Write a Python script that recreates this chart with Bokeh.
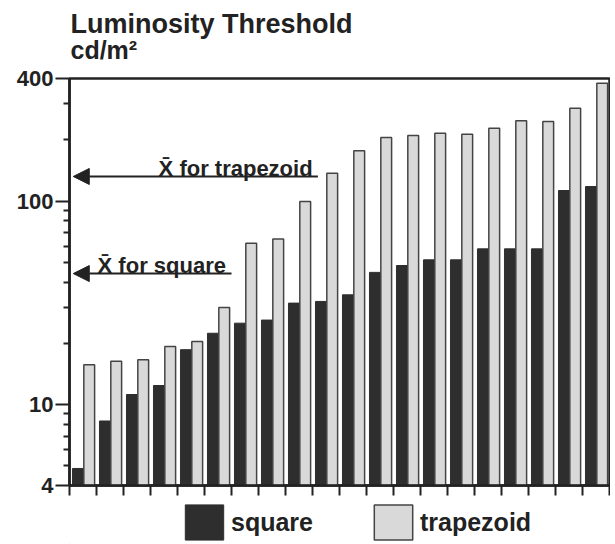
from bokeh.plotting import figure
from bokeh.layouts import column
from bokeh.models import (Range1d, FixedTicker, PrintfTickFormatter, Label, Arrow,
                          NormalHead, Legend, LegendItem, ColumnDataSource)
from bokeh.transform import dodge
from bokeh.embed import file_html
from bokeh.resources import INLINE

# ---- data ----
subjects = list(range(1, 21))
square = [4.85, 8.3, 11.2, 12.4, 18.6, 22.4, 25.1, 26.0, 31.5, 32.1,
          34.6, 44.6, 48.2, 51.4, 51.4, 58.2, 58.2, 58.2, 112.6, 117.8]
trapezoid = [15.7, 16.3, 16.6, 19.3, 20.4, 30.0, 62.0, 65.0, 99.5, 137.0,
             176.6, 205.0, 210.0, 215.0, 213.0, 228.0, 248.0, 246.0, 286.0, 379.0]
mean_square = 44
mean_trapezoid = 132
y_major_ticks = [4, 10, 100, 400]
y_minor_ticks = [5, 6, 7, 8, 9, 20, 30, 40, 50, 60, 70, 80, 90, 200, 300]
series_names = ["square", "trapezoid"]
title_text = "Luminosity Threshold"
unit_text = "cd/m\u00b2"
mean_labels = ["X\u0304 for square", "X\u0304 for trapezoid"]

FONT = "Liberation Sans"
INK = "#222222"
DARK = "#2e2e2e"
LIGHT = "#d9d9d9"
EDGE = "#444444"
W = 610

n = len(subjects)
y_lo, y_hi = y_major_ticks[0], y_major_ticks[-1]
src = ColumnDataSource(dict(pos=list(range(n)), square=square, trapezoid=trapezoid))


def bare(fig):
    fig.grid.visible = False
    fig.outline_line_color = None
    fig.background_fill_color = "white"
    fig.border_fill_color = "white"


# ---- header strip with the axis title ----
hd = figure(width=W, height=66, x_range=Range1d(0, 1), y_range=Range1d(0, 1),
            output_backend="svg", toolbar_location=None, min_border=0,
            min_border_left=69, min_border_right=1,
            x_axis_location=None, y_axis_location=None)
bare(hd)
hd.add_layout(Label(x=1, y=43, x_units="screen", y_units="screen", text=title_text,
                    text_font=FONT, text_font_style="bold", text_font_size="27px",
                    text_color=INK, text_baseline="alphabetic"))
hd.add_layout(Label(x=1, y=17, x_units="screen", y_units="screen", text=unit_text,
                    text_font=FONT, text_font_style="bold", text_font_size="25px",
                    text_color=INK, text_baseline="alphabetic"))

# ---- main chart ----
p = figure(width=W, height=434, y_axis_type="log",
           x_range=Range1d(0, n), y_range=Range1d(y_lo, y_hi),
           output_backend="svg", toolbar_location=None,
           min_border_left=69, min_border_right=1,
           min_border_top=12, min_border_bottom=15)
p.grid.visible = False
p.background_fill_color = "white"
p.border_fill_color = "white"
p.outline_line_color = INK
p.outline_line_width = 2.5

dark = p.vbar(x=dodge("pos", 0.32, range=p.x_range), top="square", bottom=y_lo,
              width=0.42, source=src, fill_color=DARK, line_color=DARK, line_width=1)
light = p.vbar(x=dodge("pos", 0.73, range=p.x_range), top="trapezoid", bottom=y_lo,
               width=0.40, source=src, fill_color=LIGHT, line_color=EDGE, line_width=1.5)

ya = p.yaxis[0]
ya.ticker = FixedTicker(ticks=y_major_ticks, minor_ticks=y_minor_ticks)
ya.formatter = PrintfTickFormatter(format="%d")
ya.major_label_text_font = FONT
ya.major_label_text_font_style = "bold"
ya.major_label_text_font_size = "22px"
ya.major_label_text_color = INK
ya.major_label_standoff = 2
ya.major_tick_out = 14
ya.major_tick_in = 0
ya.minor_tick_out = 6
ya.minor_tick_in = 0
ya.major_tick_line_width = 2
ya.minor_tick_line_width = 2
ya.major_tick_line_color = INK
ya.minor_tick_line_color = INK
ya.axis_line_width = 2.5
ya.axis_line_color = INK

xa = p.xaxis[0]
xa.ticker = FixedTicker(ticks=list(range(n + 1)))
xa.major_label_text_font_size = "0px"
xa.major_label_standoff = 0
xa.major_tick_out = 10
xa.major_tick_in = 0
xa.minor_tick_out = 0
xa.minor_tick_in = 0
xa.major_tick_line_width = 2
xa.major_tick_line_color = INK
xa.axis_line_width = 2.5
xa.axis_line_color = INK

for mean, x_end_line, x_text, txt in [(mean_trapezoid, 9.2, 3.3, mean_labels[1]),
                                      (mean_square, 6.0, 1.04, mean_labels[0])]:
    p.add_layout(Arrow(end=NormalHead(size=16, fill_color=INK, line_color=INK),
                       x_start=x_end_line, x_end=0.14, y_start=mean, y_end=mean,
                       line_width=2, line_color=INK))
    p.add_layout(Label(x=x_text, y=mean, y_offset=8, text=txt, text_font=FONT,
                       text_font_style="bold", text_font_size="22px", text_color=INK,
                       text_baseline="alphabetic"))

# ---- legend strip ----
lg = figure(width=W, height=44, x_range=Range1d(0, 1), y_range=Range1d(0, 1),
            output_backend="svg", toolbar_location=None, min_border=0,
            min_border_left=69, min_border_right=1,
            x_axis_location=None, y_axis_location=None)
bare(lg)
# legend key proxies (kept outside the visible range; only their style is shown)
k_dark = lg.vbar(x=[-1], top=[-1], width=0.1, fill_color=DARK, line_color=DARK, line_width=1)
k_light = lg.vbar(x=[-1], top=[-1], width=0.1, fill_color=LIGHT, line_color=EDGE, line_width=1.5)
legend = Legend(items=[LegendItem(label=series_names[0], renderers=[k_dark]),
                       LegendItem(label=series_names[1], renderers=[k_light])],
                orientation="horizontal", location=(111, 0),
                glyph_width=48, glyph_height=44, label_standoff=3, spacing=56,
                padding=0, margin=0, border_line_alpha=0, background_fill_alpha=0,
                label_text_font=FONT, label_text_font_style="bold",
                label_text_font_size="25px", label_text_color=INK)
lg.add_layout(legend)

layout = column(hd, p, lg, spacing=0)
open("out.html", "w").write(file_html(layout, INLINE))
